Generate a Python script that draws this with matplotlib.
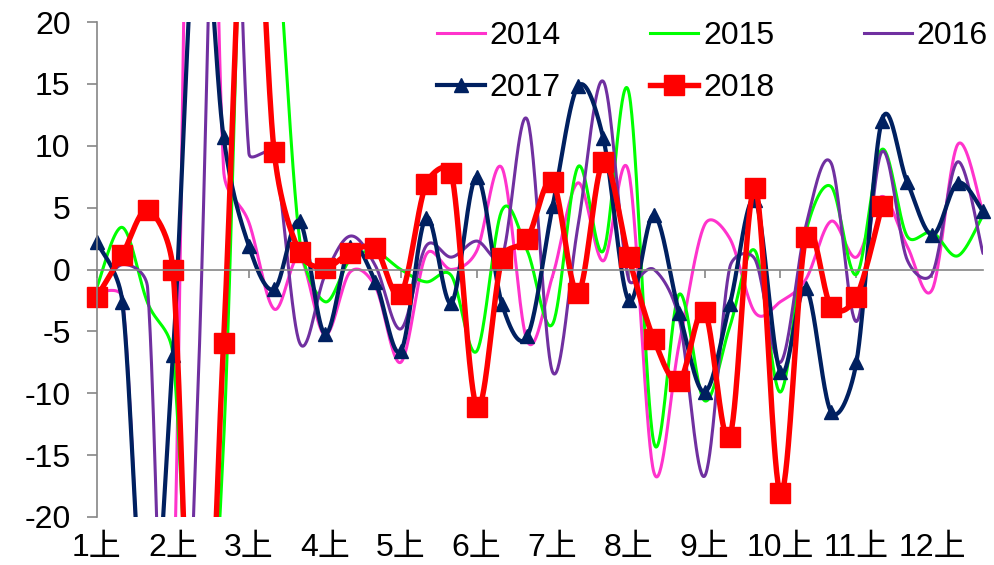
import numpy as np
import matplotlib.pyplot as plt
from matplotlib.lines import Line2D
from matplotlib.transforms import blended_transform_factory

# Ten-day (上/中/下) growth rate by year, three periods per month, Jan..Dec
month_labels = [f"{m}上" for m in range(1, 13)]
years = ["2014", "2015", "2016", "2017", "2018"]

y2014 = [-1.8, -2.3, -35, -28, 80, 8.1, 3.8, -3.2, 1.0, -5.3, -0.2, -1.4,
         -7.5, 1.2, 0.0, 1.5, 8.2, -5.8, -0.5, 7.0, 0.7, 7.9, -16.4, -6.0,
         3.6, 2.5, -3.5, -2.6, -0.8, 3.9, 1.0, 5.9, 1.9, -1.6, 10.1, 4.6]
y2015 = [-1.4, 3.4, -2.7, -6.9, -40, -14, 45, 30, 2.5, -2.6, 0.8, 1.4,
         0.0, -1.0, -0.5, -6.6, 4.8, 1.5, -4.4, 8.3, 1.5, 14.4, -14.0, -2.0,
         -10.6, -4.6, 1.5, -9.9, 3.0, 6.7, -0.4, 9.7, 2.7, 3.0, 1.1, 4.4]
y2016 = [-2.0, 0.4, -1.5, -53, -9, 56, 9.4, 9.3, -5.9, -0.5, 2.7, 0.3,
         -4.8, 1.9, 1.0, 2.3, 1.0, 12.1, -8.3, 3.5, 15.2, -0.8, 0.0, -4.0,
         -16.7, 0.2, 0.8, -7.5, 3.5, 8.6, -4.2, 9.5, 0.8, -0.3, 8.7, 1.3]
y2017 = [2.2, -2.6, -32, -6.9, 31, 10.7, 1.9, -1.6, 3.9, -5.2, 1.8, -1.0,
         -6.6, 4.2, -2.7, 7.5, -2.8, -5.4, 5.1, 14.8, 10.6, -2.5, 4.4, -3.5,
         -9.9, -2.8, 5.6, -8.3, -1.5, -11.5, -7.5, 12.0, 7.1, 2.8, 7.0, 4.7]
y2018 = [-2.2, 1.2, 4.8, 0.0, -45, -5.9, 38, 9.5, 1.4, 0.15, 1.35, 1.7,
         -2.0, 6.9, 7.8, -11.1, 0.9, 2.5, 7.1, -1.9, 8.7, 1.0, -5.65, -9.0,
         -3.4, -13.5, 6.6, -18.1, 2.6, -3.0, -2.2, 5.1]

series = [y2014, y2015, y2016, y2017, y2018]
colors = ["#FF33CC", "#00FF00", "#7030A0", "#002060", "#FF0000"]
widths = [2.2, 2.2, 2.2, 3.0, 3.9]
markers = [None, None, None, "^", "s"]
msizes = [0, 0, 0, 10, 14]

YMIN, YMAX = -20, 20
FONT = ["Liberation Sans", "Noto Sans CJK SC"]
plt.rcParams["font.family"] = FONT
plt.rcParams["axes.unicode_minus"] = False


def excel_smooth(ax, x, y, steps=40):
    # Bezier smoothing in display space; control arms are capped at half
    # the segment length, as spreadsheet "smoothed line" charts do
    pts = ax.transData.transform(np.column_stack([x, y]))
    n = len(pts)
    t = np.linspace(0, 1, steps)[1:, None]
    out = [pts[0]]
    for k in range(n - 1):
        p0 = pts[max(k - 1, 0)]
        p1, p2 = pts[k], pts[k + 1]
        p3 = pts[min(k + 2, n - 1)]
        d12 = np.hypot(*(p2 - p1))
        d02 = np.hypot(*(p2 - p0))
        d13 = np.hypot(*(p3 - p1))
        f0 = min(d02 / 6, d12 / 2) / d02 if d02 > 0 else 0
        f3 = min(d13 / 6, d12 / 2) / d13 if d13 > 0 else 0
        c1 = p1 + (p2 - p0) * f0
        c2 = p2 - (p3 - p1) * f3
        seg = ((1 - t) ** 3) * p1 + 3 * ((1 - t) ** 2) * t * c1 \
            + 3 * (1 - t) * t ** 2 * c2 + t ** 3 * p2
        out.extend(seg)
    return ax.transData.inverted().transform(np.array(out))


fig = plt.figure(figsize=(9.94, 5.65), dpi=100)
ax = fig.add_axes([97 / 994, 1 - 517 / 565, (983 - 97) / 994, 495 / 565])
ax.set_xlim(0, 35)
ax.set_ylim(YMIN, YMAX)

for sp in ["top", "right"]:
    ax.spines[sp].set_visible(False)
ax.spines["left"].set_color("#868686")
ax.spines["left"].set_linewidth(1.2)
ax.spines["bottom"].set_position(("data", 0))
ax.spines["bottom"].set_color("#868686")
ax.spines["bottom"].set_linewidth(1.2)

ax.set_yticks(np.arange(-20, 21, 5))
ax.tick_params(axis="y", direction="out", length=7, width=1.2,
               color="#868686", labelsize=23, pad=12)
ax.set_xticks(np.arange(0, 36, 3))
ax.tick_params(axis="x", direction="out", length=6, width=1.2,
               color="#868686", labelbottom=False)

# month labels sit under the plot, not on the zero line
trans = blended_transform_factory(ax.transData, ax.transAxes)
for i, lab in enumerate(month_labels):
    ax.text(i * 3, -0.063, lab, transform=trans, ha="center", va="center",
            fontsize=23, family=FONT)

handles = []
for name, vals, c, lw, mk, ms in zip(years, series, colors, widths, markers, msizes):
    x = np.arange(len(vals))
    curve = excel_smooth(ax, x, vals)
    ax.plot(curve[:, 0], curve[:, 1], color=c, lw=lw, solid_capstyle="round",
            solid_joinstyle="round")
    if mk:
        v = np.array(vals, dtype=float)
        v[(v < YMIN) | (v > YMAX)] = np.nan
        ax.plot(x, v, ls="none", marker=mk, ms=ms, color=c, clip_on=False)
    handles.append(Line2D([], [], color=c, lw=lw, marker=mk, ms=ms))

# fill the legend column-wise so it reads row by row
order = [0, 3, 1, 4, 2]
ax.legend([handles[i] for i in order], [years[i] for i in order], ncol=3,
          loc="upper left", bbox_to_anchor=(437 / 994, 1 - 21 / 565),
          bbox_transform=fig.transFigure, frameon=False, fontsize=23,
          handlelength=1.5, handletextpad=0.15, columnspacing=2.8,
          labelspacing=0.68, borderpad=0, borderaxespad=0)

fig.savefig("out.png", dpi=100)
